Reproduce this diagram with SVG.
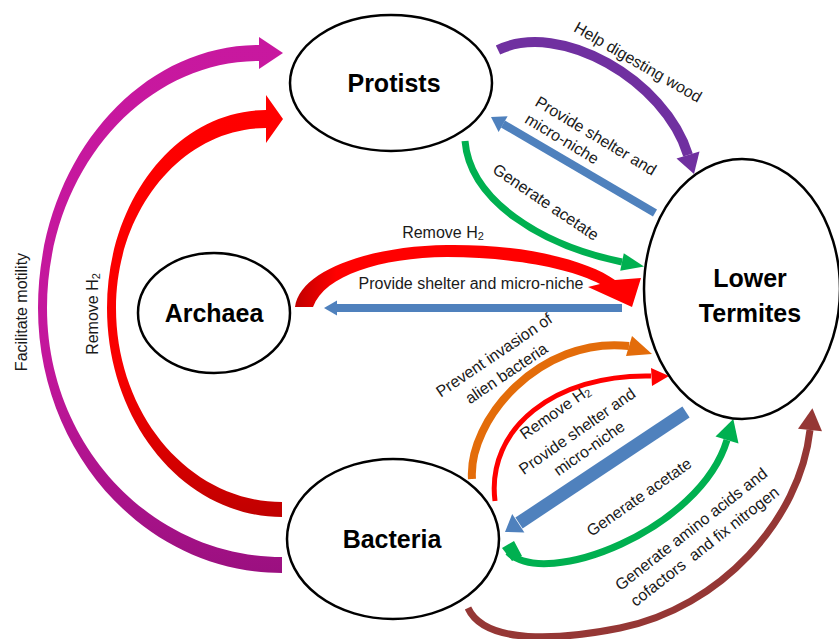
<svg xmlns="http://www.w3.org/2000/svg" width="839" height="639" viewBox="0 0 839 639">
<style>
.node{fill:#fff;stroke:#000;stroke-width:2.5}
.nt{font-family:"Liberation Sans",Arial,sans-serif;font-weight:bold;font-size:25px;fill:#000;text-anchor:middle}
.lb{font-family:"Liberation Sans",Arial,sans-serif;font-size:16px;fill:#1a1a1a;text-anchor:middle;white-space:pre}
.sh{fill:none;stroke-linecap:butt}
</style>
<defs>
<linearGradient id="gMag" x1="0" y1="0" x2="0" y2="1">
<stop offset="0" stop-color="#C8189F"/><stop offset="0.6" stop-color="#C3179C"/><stop offset="1" stop-color="#9B1080"/>
</linearGradient>
<linearGradient id="gRed" x1="0" y1="0" x2="0" y2="1">
<stop offset="0" stop-color="#FF0000"/><stop offset="0.65" stop-color="#F80000"/><stop offset="1" stop-color="#C00000"/>
</linearGradient>
<linearGradient id="gRed2" x1="0" y1="0" x2="1" y2="0">
<stop offset="0" stop-color="#C00000"/><stop offset="0.12" stop-color="#FF0000"/><stop offset="1" stop-color="#FF0000"/>
</linearGradient>
</defs>

<g id="connectors">
<!-- Bacteria -> Protists : Facilitate motility -->
<path fill="url(#gMag)" d="M 282,573 C 147,573 38,454 38,308 C 38,163 137,45 259,45 L 259,37 L 283,53 L 259,69 L 259,61 C 142,61 47,172 47,308 C 47,445 152,557 282,557 Z"/>
<!-- Bacteria -> Protists : Remove H2 -->
<path fill="url(#gRed)" d="M 282,517 C 185,517 107,423 107,308 C 107,199 178,110 266,110 L 266,95 L 283,119 L 266,143 L 266,128 C 183,128 116,209 116,308 C 116,415 190,502 282,502 Z"/>
<!-- Protists -> Termites : Help digesting wood -->
<path class="sh" stroke="#7030A0" stroke-width="10" d="M 498,50 C 560,20 665,80 688,155"/>
<polygon fill="#7030A0" points="676.5,158.5 699.5,151.5 694,174"/>
<!-- Termites -> Protists : shelter -->
<line stroke="#4F81BD" stroke-width="8" x1="655" y1="213" x2="503" y2="124"/>
<polygon fill="#4F81BD" points="507.6,116.3 498.6,131.9 491,117"/>
<!-- Protists -> Termites : acetate -->
<path class="sh" stroke="#00B050" stroke-width="7" d="M 465,141 C 470,200 540,245 622,262"/>
<polygon fill="#00B050" points="623.8,253.2 620.2,270.8 644,266.5"/>
<!-- Archaea -> Termites : Remove H2 -->
<path fill="url(#gRed2)" d="M 295,307 C 300,270 370,246 447,245 C 530,244 590,262 615,280 L 641,278 L 632,307 L 588,287 L 600,284 C 570,268 510,257 447,257 C 380,258 325,275 313,307 Z"/>
<!-- Termites -> Archaea : shelter -->
<line stroke="#4F81BD" stroke-width="8" x1="622" y1="308" x2="336" y2="308"/>
<polygon fill="#4F81BD" points="337,300.5 337,315.5 324,308"/>
<!-- Bacteria -> Termites : prevent invasion -->
<path class="sh" stroke="#E36C0A" stroke-width="8" d="M 472,479 C 468,420 540,336 629,346"/>
<polygon fill="#E36C0A" points="632,336 626,356 652,354"/>
<!-- Bacteria -> Termites : Remove H2 -->
<path class="sh" stroke="#FF0000" stroke-width="5" d="M 495,501 C 486,428 555,374 651,376"/>
<polygon fill="#FF0000" points="651,368 669,376 652,386"/>
<!-- Termites -> Bacteria : shelter -->
<line stroke="#4F81BD" stroke-width="13" x1="686" y1="412" x2="519" y2="523"/>
<polygon fill="#4F81BD" points="524.4,532.4 512.2,514 505,532"/>
<!-- Bacteria -> Termites : acetate -->
<path class="sh" stroke="#00B050" stroke-width="7" d="M 508,552 C 545,590 700,530 727,440"/>
<path fill="#00B050" d="M 502,548 L 514,541 L 522,556 L 512,561 Z"/>
<polygon fill="#00B050" points="715.5,436.6 738.5,443.4 733.3,419"/>
<!-- Bacteria -> Termites : amino acids -->
<path class="sh" stroke="#953735" stroke-width="7" d="M 468,608 C 485,645 560,640 620,628 C 720,608 800,520 810,430"/>
<polygon fill="#953735" points="798,428.7 822,431.3 812.4,408.2"/>
</g>

<g id="protists"><ellipse class="node" cx="391" cy="83" rx="101" ry="68"/><text class="nt" x="394" y="92">Protists</text></g>
<g id="archaea"><ellipse class="node" cx="214" cy="313" rx="76" ry="60"/><text class="nt" x="214" y="322">Archaea</text></g>
<g id="termites"><ellipse class="node" cx="742" cy="289" rx="98" ry="130"/><text class="nt" x="750" y="287">Lower</text><text class="nt" x="750" y="322">Termites</text></g>
<g id="bacteria"><ellipse class="node" cx="393" cy="539" rx="106" ry="80"/><text class="nt" x="392" y="548">Bacteria</text></g>

<g id="labels">
<text class="lb" transform="translate(21,312) rotate(-90)" dy="0.35em">Facilitate motility</text>
<text class="lb" transform="translate(92,314) rotate(-90)" dy="0.35em">Remove H<tspan font-size="11" dy="2">2</tspan></text>
<text class="lb" transform="translate(638,62) rotate(30)" dy="0.35em">Help digesting wood</text>
<g transform="translate(534,105) rotate(31)"><text class="lb" style="text-anchor:start" x="0" y="0">Provide shelter and</text><text class="lb" style="text-anchor:start" x="0" y="20">micro-niche</text></g>
<text class="lb" transform="translate(546,202) rotate(34)" dy="0.35em">Generate acetate</text>
<text class="lb" x="443" y="238">Remove H<tspan font-size="11" dy="2">2</tspan></text>
<text class="lb" x="471" y="289">Provide shelter and micro-niche</text>
<g transform="translate(494,355) rotate(-34)"><text class="lb" dy="0.35em">Prevent invasion of</text><text class="lb" y="22" dy="0.35em">alien bacteria</text></g>
<text class="lb" transform="translate(555,412) rotate(-35)" dy="0.35em">Remove H<tspan font-size="11" dy="2">2</tspan></text>
<g transform="translate(577,431) rotate(-35)"><text class="lb" dy="0.35em">Provide shelter and</text><text class="lb" y="21" dy="0.35em">micro-niche</text></g>
<text class="lb" transform="translate(639,497) rotate(-35)" dy="0.35em">Generate acetate</text>
<g transform="translate(691,529) rotate(-38)"><text class="lb" dy="0.35em">Generate amino acids and</text><text class="lb" y="22" dy="0.35em">cofactors  and fix nitrogen</text></g>
</g>
</svg>
